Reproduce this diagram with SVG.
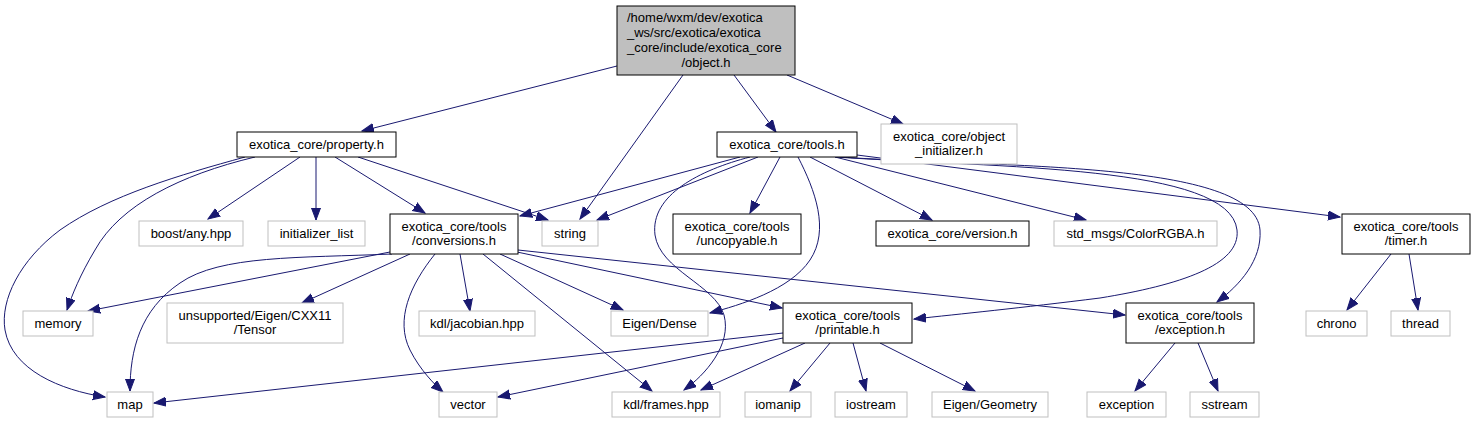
<svg xmlns="http://www.w3.org/2000/svg" width="1476" height="424" viewBox="0 0 1476 424">
<defs>
<style>
.n rect{fill:#ffffff;stroke:#000000;stroke-width:1}
.g rect{fill:#ffffff;stroke:#bfbfbf;stroke-width:1}
.r rect{fill:#bfbfbf;stroke:#000000;stroke-width:1}
text{font-family:"Liberation Sans",Arial,sans-serif;font-size:13px;fill:#000000;text-anchor:middle}
.e path{fill:none;stroke:#191970;stroke-width:1;marker-end:url(#ah)}
</style>
<marker id="ah" markerUnits="userSpaceOnUse" markerWidth="13" markerHeight="11" refX="12" refY="5" orient="auto">
<path d="M0,0.5 L12,5 L0,9.5 z" fill="#191970" stroke="#191970" stroke-width="1"/>
</marker>
</defs>
<rect width="1476" height="424" fill="#ffffff"/>
<g class="e" id="edges">
<path d="M617,66 L362,131"/>
<path d="M683,75 L580,219"/>
<path d="M734,75 L776,132"/>
<path d="M787,75 L903,124"/>
<path d="M245,157 C180,175 110,195 60,230 C20,260 0,300 5,330 C12,370 60,390 105,397"/>
<path d="M255,157 C180,175 120,205 95,250 C80,275 72,295 67,310"/>
<path d="M300,157 L208,219"/>
<path d="M316,157 L316,220"/>
<path d="M335,157 L425,213"/>
<path d="M358,157 L548,220"/>
<path d="M740,157 L520,216"/>
<path d="M758,157 L597,220"/>
<path d="M750,157 C700,170 650,195 655,235 C660,270 715,285 724,315 C732,345 705,375 684,390"/>
<path d="M780,157 L750,213"/>
<path d="M798,157 C815,190 830,230 810,260 C790,290 740,305 710,313"/>
<path d="M810,157 L932,220"/>
<path d="M835,157 L1086,220"/>
<path d="M835,157 C1000,168 1230,165 1237,230 C1241,265 1180,285 1100,298 C1020,308 960,314 914,319"/>
<path d="M840,157 C1000,168 1255,160 1260,230 C1262,260 1240,285 1217,302"/>
<path d="M857,155 L1340,217"/>
<path d="M390,252 L88,311"/>
<path d="M392,254 C300,258 220,255 180,283 C140,310 130,350 130,391"/>
<path d="M410,254 L302,303"/>
<path d="M435,254 C410,285 395,320 410,350 C420,370 435,385 443,392"/>
<path d="M460,254 L470,311"/>
<path d="M500,254 L623,310"/>
<path d="M483,254 L652,391"/>
<path d="M517,252 L782,308"/>
<path d="M518,250 L1125,315"/>
<path d="M783,333 L154,403"/>
<path d="M783,338 L498,397"/>
<path d="M805,343 L701,390"/>
<path d="M830,343 L790,391"/>
<path d="M853,343 L866,391"/>
<path d="M880,343 L975,391"/>
<path d="M1175,343 L1135,391"/>
<path d="M1198,343 L1218,391"/>
<path d="M1391,254 L1347,310"/>
<path d="M1409,254 L1418,310"/>
</g>
<g id="node_object" class="r"><rect x="617" y="6" width="178" height="69"/>
<text x="627" y="22" style="text-anchor:start">/home/wxm/dev/exotica</text>
<text x="627" y="37" style="text-anchor:start">_ws/src/exotica/exotica</text>
<text x="627" y="52" style="text-anchor:start">_core/include/exotica_core</text>
<text x="706" y="67">/object.h</text></g>
<g id="node_property" class="n"><rect x="237" y="132" width="159" height="25"/><text x="316.5" y="149">exotica_core/property.h</text></g>
<g id="node_tools" class="n"><rect x="717" y="132" width="140" height="25"/><text x="787" y="149">exotica_core/tools.h</text></g>
<g id="node_objinit" class="g"><rect x="881" y="124" width="136" height="40"/><text x="949" y="140.5">exotica_core/object</text><text x="949" y="155">_initializer.h</text></g>
<g id="node_boostany" class="g"><rect x="139" y="221" width="104" height="25"/><text x="191" y="238">boost/any.hpp</text></g>
<g id="node_initlist" class="g"><rect x="268" y="221" width="97" height="25"/><text x="316.5" y="238">initializer_list</text></g>
<g id="node_conversions" class="n"><rect x="390" y="214" width="128" height="40"/><text x="454" y="230.5">exotica_core/tools</text><text x="454" y="245">/conversions.h</text></g>
<g id="node_string" class="g"><rect x="542" y="221" width="56" height="25"/><text x="570" y="238">string</text></g>
<g id="node_uncopyable" class="n"><rect x="673" y="214" width="128" height="40"/><text x="737" y="230.5">exotica_core/tools</text><text x="737" y="245">/uncopyable.h</text></g>
<g id="node_version" class="n"><rect x="876" y="221" width="153" height="25"/><text x="952.5" y="238">exotica_core/version.h</text></g>
<g id="node_colorrgba" class="g"><rect x="1054" y="221" width="163" height="25"/><text x="1135.5" y="238">std_msgs/ColorRGBA.h</text></g>
<g id="node_timer" class="n"><rect x="1342" y="214" width="128" height="40"/><text x="1406" y="230.5">exotica_core/tools</text><text x="1406" y="245">/timer.h</text></g>
<g id="node_memory" class="g"><rect x="23" y="311" width="70" height="25"/><text x="58" y="328">memory</text></g>
<g id="node_tensor" class="g"><rect x="167" y="303" width="176" height="40"/><text x="255" y="319.5">unsupported/Eigen/CXX11</text><text x="255" y="334">/Tensor</text></g>
<g id="node_jacobian" class="g"><rect x="419" y="311" width="116" height="25"/><text x="477" y="328">kdl/jacobian.hpp</text></g>
<g id="node_dense" class="g"><rect x="611" y="311" width="97" height="25"/><text x="659.5" y="328">Eigen/Dense</text></g>
<g id="node_printable" class="n"><rect x="783" y="303" width="129" height="40"/><text x="847.5" y="319.5">exotica_core/tools</text><text x="847.5" y="334">/printable.h</text></g>
<g id="node_exceptionh" class="n"><rect x="1126" y="303" width="128" height="40"/><text x="1190" y="319.5">exotica_core/tools</text><text x="1190" y="334">/exception.h</text></g>
<g id="node_chrono" class="g"><rect x="1306" y="311" width="61" height="25"/><text x="1336.5" y="328">chrono</text></g>
<g id="node_thread" class="g"><rect x="1391" y="311" width="59" height="25"/><text x="1420.5" y="328">thread</text></g>
<g id="node_map" class="g"><rect x="107" y="392" width="46" height="25"/><text x="130" y="409">map</text></g>
<g id="node_vector" class="g"><rect x="439" y="392" width="58" height="25"/><text x="468" y="409">vector</text></g>
<g id="node_frames" class="g"><rect x="612" y="392" width="108" height="25"/><text x="666" y="409">kdl/frames.hpp</text></g>
<g id="node_iomanip" class="g"><rect x="745" y="392" width="66" height="25"/><text x="778" y="409">iomanip</text></g>
<g id="node_iostream" class="g"><rect x="835" y="392" width="72" height="25"/><text x="871" y="409">iostream</text></g>
<g id="node_geometry" class="g"><rect x="932" y="392" width="116" height="25"/><text x="990" y="409">Eigen/Geometry</text></g>
<g id="node_exception" class="g"><rect x="1087" y="392" width="79" height="25"/><text x="1126.5" y="409">exception</text></g>
<g id="node_sstream" class="g"><rect x="1190" y="392" width="69" height="25"/><text x="1224.5" y="409">sstream</text></g>
</svg>
